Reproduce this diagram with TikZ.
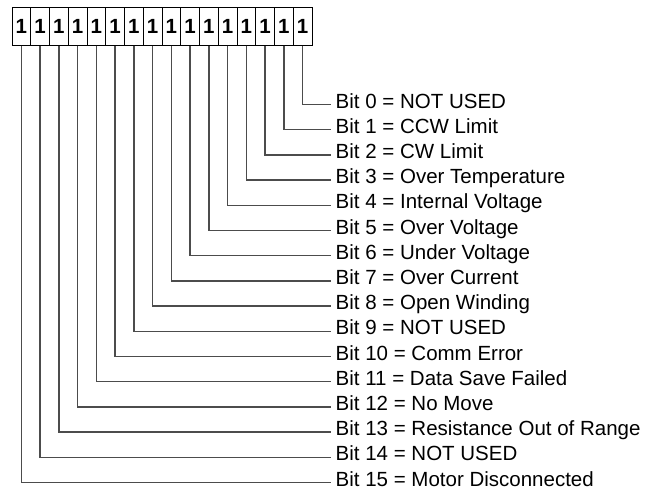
\documentclass[tikz,border=0pt]{standalone}
\usepackage{fontspec}
\setmainfont{Liberation Sans}
\usetikzlibrary{positioning}

\begin{document}
\begin{tikzpicture}[
    x=1pt, y=-1pt,
    bitbox/.style={draw, line width=1pt, minimum width=18.75pt, minimum height=38pt, inner sep=0pt, font=\bfseries\fontsize{20.5}{20.5}\selectfont},
    bitlabel/.style={anchor=west, inner xsep=4.5pt, inner ysep=0pt, text height=0.72em, text depth=0pt, font=\fontsize{20.5}{20.5}\selectfont},
    lead/.style={draw=black!70, line width=1.3pt}
]
    \useasboundingbox (0,0) rectangle (661,490);

    % register boxes, bit 15 on the left
    \foreach \i in {0,...,15}
        \node[bitbox] (b\i) at ({12+18.75*(15-\i)+9.375}, 26) {1};

    % bit descriptions
    \foreach \i/\txt in {0/NOT USED, 1/CCW Limit, 2/CW Limit, 3/Over Temperature,
        4/Internal Voltage, 5/Over Voltage, 6/Under Voltage, 7/Over Current,
        8/Open Winding, 9/NOT USED, 10/Comm Error, 11/Data Save Failed,
        12/No Move, 13/Resistance Out of Range, 14/NOT USED, 15/Motor Disconnected}
        \node[bitlabel] (l\i) at (331, {104.5+25.2*\i}) {Bit \i\ = \txt};

    % leads from each bit to its description
    \foreach \i in {0,...,15}
        \draw[lead] (b\i.south) |- (l\i.west);
\end{tikzpicture}
\end{document}
